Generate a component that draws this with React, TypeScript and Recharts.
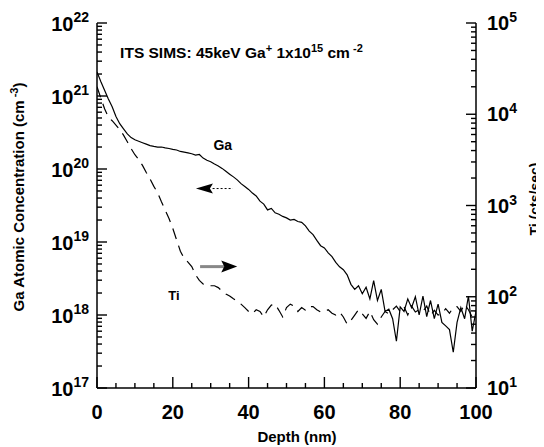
import React from "react";
import {
  ComposedChart,
  Line,
  XAxis,
  YAxis,
  ReferenceLine,
  ReferenceDot,
  Label,
} from "recharts";

const FONT = "'Liberation Sans', Arial, Helvetica, sans-serif";

// Depth (nm)
const depths: number[] = Array.from({ length: 101 }, (_, i) => i);

// Ga atomic concentration (cm^-3), left axis
const gaConc: number[] = [
  2.14e21, 1.58e21, 1.2e21, 9.1e20, 7.1e20, 5.25e20, 4.17e20, 3.55e20, 3.02e20, 2.69e20,
  2.51e20, 2.4e20, 2.29e20, 2.19e20, 2.09e20, 2.04e20, 2.0e20, 2.0e20, 1.95e20, 1.91e20,
  1.86e20, 1.82e20, 1.74e20, 1.7e20, 1.66e20, 1.62e20, 1.55e20, 1.58e20, 1.41e20, 1.32e20,
  1.26e20, 1.17e20, 1.1e20, 1.02e20, 9.3e19, 8.5e19, 7.8e19, 7.1e19, 6.3e19, 5.75e19,
  5.25e19, 4.68e19, 4.27e19, 3.63e19, 3.31e19, 2.75e19, 2.88e19, 2.51e19, 2.4e19, 2.24e19,
  2.14e19, 2.0e19, 2.04e19, 1.91e19, 1.86e19, 1.66e19, 1.41e19, 1.26e19, 1.05e19, 8.9e18,
  8.3e18, 7.1e18, 6.3e18, 5.25e18, 4.57e18, 4.17e18, 3.55e18, 2.63e18, 2.24e18, 2.51e18,
  1.95e18, 2.4e18, 1.66e18, 2.95e18, 1.58e18, 2.24e18, 1.12e18, 1.2e18, 8.9e17, 4.37e17,
  1.29e18, 1.12e18, 1.66e18, 1.26e18, 1.78e18, 1.0e18, 1.82e18, 9.5e17, 1.58e18, 8.9e17,
  1.41e18, 7.9e17, 7.1e17, 6.3e17, 3.09e17, 7.9e17, 1.26e18, 8.9e17, 1.82e18, 6.0e17,
  1.12e18,
];

// Ti counts (cts/sec), right axis
const tiCounts: number[] = [
  20000, 15100, 11500, 9300, 8500, 7600, 6800, 5900, 5000, 4200,
  3600, 3200, 2750, 2300, 1950, 1620, 1380, 1100, 890, 720,
  560, 420, 316, 263, 240, 214, 174, 151, 138, 132,
  132, 132, 126, 115, 107, 102, 95, 89, 83, 76,
  69, 65, 72, 69, 60, 72, 81, 83, 71, 60,
  76, 83, 79, 69, 76, 71, 78, 78, 72, 68,
  69, 72, 66, 63, 68, 60, 50, 55, 63, 72,
  65, 58, 69, 56, 50, 60, 69, 65, 72, 79,
  69, 78, 63, 79, 68, 72, 69, 79, 62, 71,
  63, 65, 74, 66, 76, 78, 69, 83, 72, 60,
  71,
];

const xTicks: number[] = [0, 5, 10, 15, 20, 25, 30, 35, 40, 45, 50, 55, 60, 65, 70, 75, 80, 85, 90, 95, 100];

function logTicks(minExp: number, maxExp: number): number[] {
  const out: number[] = [];
  for (let e = minExp; e <= maxExp; e++) {
    out.push(Math.pow(10, e));
    if (e < maxExp) for (let m = 2; m <= 9; m++) out.push(m * Math.pow(10, e));
  }
  return out;
}
const leftTicks = logTicks(17, 22);
const rightTicks = logTicks(1, 5);

const data = depths.map((d, i) => ({ depth: d, ga: gaConc[i], ti: tiCounts[i] }));

const isMajor = (v: number) => {
  const l = Math.log10(v);
  return Math.abs(l - Math.round(l)) < 1e-6;
};

const TICK_W = 1.4;

const LeftTick = (props: any) => {
  const x = Number(props.x);
  const y = Number(props.y);
  const v = Number(props.payload.value);
  const major = isMajor(v);
  const exp = Math.round(Math.log10(v));
  const len = major ? 10 : 5;
  return (
    <g>
      <path d={`M${x},${y}H${x + len}`} stroke="#000" strokeWidth={TICK_W} fill="none" />
      {major && (
        <text x={x - 8} y={y + 8} textAnchor="end" fontFamily={FONT} fontWeight="bold" fontSize={20} fill="#000">
          10
          <tspan fontSize={14} dy={-9}>{exp}</tspan>
        </text>
      )}
    </g>
  );
};

const RightTick = (props: any) => {
  const x = Number(props.x);
  const y = Number(props.y);
  const v = Number(props.payload.value);
  const major = isMajor(v);
  const exp = Math.round(Math.log10(v));
  const len = major ? 10 : 5;
  return (
    <g>
      <path d={`M${x},${y}H${x - len}`} stroke="#000" strokeWidth={TICK_W} fill="none" />
      {major && (
        <text x={x + 11} y={y + 7} textAnchor="start" fontFamily={FONT} fontWeight="bold" fontSize={20} fill="#000">
          10
          <tspan fontSize={14} dy={-8}>{exp}</tspan>
        </text>
      )}
    </g>
  );
};

const BottomTick = (props: any) => {
  const x = Number(props.x);
  const y = Number(props.y);
  const v = Number(props.payload.value);
  const major = v % 20 === 0;
  const len = major ? 11 : 5;
  return (
    <g>
      <path d={`M${x},${y}V${y - len}`} stroke="#000" strokeWidth={TICK_W} fill="none" />
      {major && (
        <text x={x} y={y + 31} textAnchor="middle" fontFamily={FONT} fontWeight="bold" fontSize={20} fill="#000">
          {v}
        </text>
      )}
    </g>
  );
};

const TopTick = (props: any) => {
  const x = Number(props.x);
  const y = Number(props.y);
  const v = Number(props.payload.value);
  const major = v % 20 === 0;
  const len = major ? 11 : 5;
  return <path d={`M${x},${y}V${y + len}`} stroke="#000" strokeWidth={TICK_W} fill="none" />;
};

const textStyle = { fontFamily: FONT, fontWeight: "bold" as const, fill: "#000" };

export default function App() {
  return (
    <div style={{ width: 536, height: 439 }}>
      <ComposedChart width={536} height={439} data={data} margin={{ top: 15, right: 0, bottom: 0, left: 0 }}>
        <XAxis
          dataKey="depth"
          type="number"
          domain={[0, 100]}
          ticks={xTicks}
          interval={0}
          height={59}
          tickSize={0}
          tickMargin={0}
          tickLine={false}
          tick={<BottomTick />}
          axisLine={{ stroke: "#000", strokeWidth: 1.5 }}
          allowDataOverflow
        >
          <Label
            content={() => (
              <text x={289} y={434} textAnchor="middle" fontSize={15} {...textStyle}>
                Depth (nm)
              </text>
            )}
          />
        </XAxis>
        <XAxis
          xAxisId="top"
          orientation="top"
          type="number"
          domain={[0, 100]}
          ticks={xTicks}
          interval={0}
          height={0}
          tickSize={0}
          tickMargin={0}
          tickLine={false}
          tick={<TopTick />}
          axisLine={{ stroke: "#000", strokeWidth: 1.5 }}
          allowDataOverflow
        />
        <YAxis
          yAxisId="left"
          orientation="left"
          type="number"
          scale="log"
          domain={[1e17, 1e22]}
          ticks={leftTicks}
          interval={0}
          width={89}
          tickSize={0}
          tickMargin={0}
          tickLine={false}
          tick={<LeftTick />}
          axisLine={{ stroke: "#000", strokeWidth: 1.5 }}
          allowDataOverflow
        >
          <Label
            content={() => (
              <text
                x={10}
                y={189}
                textAnchor="middle"
                dominantBaseline="central"
                transform="rotate(-90 10 189)"
                fontSize={15}
                {...textStyle}
              >
                Ga Atomic Concentration (cm
                <tspan fontSize={11} dy={-4}> -3</tspan>
                <tspan dy={4}>)</tspan>
              </text>
            )}
          />
        </YAxis>
        <YAxis
          yAxisId="right"
          orientation="right"
          type="number"
          scale="log"
          domain={[10, 1e5]}
          ticks={rightTicks}
          interval={0}
          width={68}
          tickSize={0}
          tickMargin={0}
          tickLine={false}
          tick={<RightTick />}
          axisLine={{ stroke: "#000", strokeWidth: 1.5 }}
          allowDataOverflow
        >
          <Label
            content={() => (
              <text
                x={527}
                y={191}
                textAnchor="middle"
                dominantBaseline="central"
                transform="rotate(-90 527 191)"
                fontSize={14}
                {...textStyle}
              >
                Ti (cts/sec)
              </text>
            )}
          />
        </YAxis>

        <Line
          yAxisId="left"
          dataKey="ga"
          type="linear"
          stroke="#000"
          strokeWidth={1.2}
          dot={false}
          isAnimationActive={false}
        />
        <Line
          yAxisId="right"
          dataKey="ti"
          type="linear"
          stroke="#000"
          strokeWidth={1.2}
          strokeDasharray="11 7"
          dot={false}
          isAnimationActive={false}
        />

        <ReferenceLine
          yAxisId="left"
          segment={[{ x: 30.5, y: 5.4e19 }, { x: 35.8, y: 5.4e19 }]}
          stroke="#000"
          strokeWidth={1}
          strokeDasharray="2 2"
        />
        <ReferenceDot
          yAxisId="left"
          x={26.1}
          y={5.4e19}
          r={0}
          shape={(p: any) => (
            <path d={`M${p.cx},${p.cy} L${p.cx + 17},${p.cy - 5} L${p.cx + 14},${p.cy} L${p.cx + 17},${p.cy + 5} Z`} fill="#000" />
          )}
        />
        <ReferenceLine
          yAxisId="left"
          segment={[{ x: 27.2, y: 4.6e18 }, { x: 33.5, y: 4.6e18 }]}
          stroke="#888"
          strokeWidth={3}
        />
        <ReferenceDot
          yAxisId="left"
          x={37}
          y={4.6e18}
          r={0}
          shape={(p: any) => (
            <path d={`M${p.cx},${p.cy} L${p.cx - 16},${p.cy - 6} L${p.cx - 13},${p.cy} L${p.cx - 16},${p.cy + 6} Z`} fill="#000" />
          )}
        />

        <ReferenceDot
          yAxisId="left"
          x={33.2}
          y={2.14e20}
          r={0}
          shape={(p: any) => (
            <text x={p.cx} y={p.cy + 5} textAnchor="middle" fontSize={14} {...textStyle}>
              Ga
            </text>
          )}
        />
        <ReferenceDot
          yAxisId="left"
          x={20.3}
          y={1.86e18}
          r={0}
          shape={(p: any) => (
            <text x={p.cx} y={p.cy + 5} textAnchor="middle" fontSize={13} {...textStyle}>
              Ti
            </text>
          )}
        />

        <ReferenceDot
          yAxisId="left"
          x={6.1}
          y={3.3e21}
          r={0}
          shape={(p: any) => (
            <text x={p.cx} y={p.cy} textAnchor="start" fontSize={15.5} {...textStyle}>
              ITS SIMS: 45keV Ga
              <tspan fontSize={11} dy={-6}>+</tspan>
              <tspan dy={6}> 1x10</tspan>
              <tspan fontSize={11} dy={-6}>15</tspan>
              <tspan dy={6}> cm</tspan>
              <tspan fontSize={11} dy={-6}> -2</tspan>
            </text>
          )}
        />
      </ComposedChart>
    </div>
  );
}
